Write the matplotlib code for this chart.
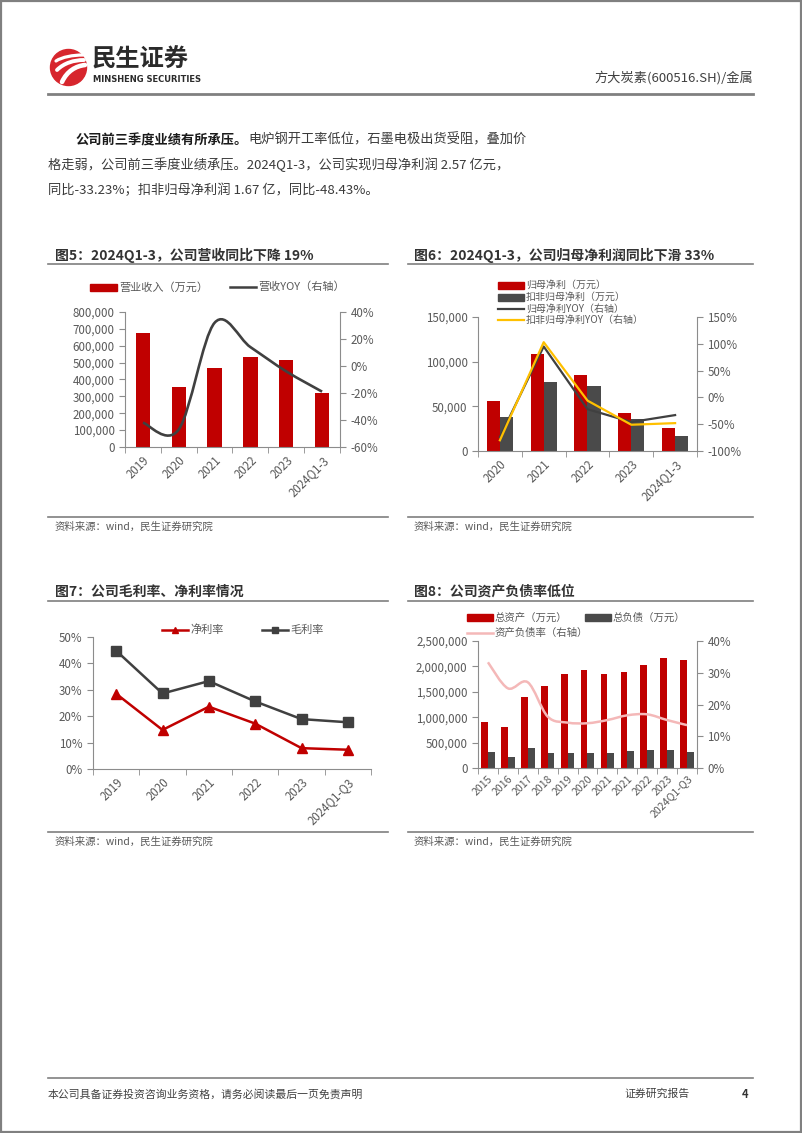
import matplotlib
matplotlib.use('Agg')
import matplotlib.pyplot as plt
import numpy as np
from matplotlib.path import Path
from matplotlib.patches import PathPatch, Circle, Rectangle
from matplotlib.lines import Line2D
from matplotlib.ticker import FixedLocator, FuncFormatter

plt.rcParams['font.family'] = ['Noto Sans CJK SC', 'DejaVu Sans']
plt.rcParams['axes.unicode_minus'] = False

# ---------------- data ----------------
c5_years = ['2019', '2020', '2021', '2022', '2023', '2024Q1-3']
c5_revenue = [675000, 357000, 470000, 535000, 515000, 322000]
c5_yoy = [-42, -47, 32, 14, -4, -19]

c6_years = ['2020', '2021', '2022', '2023', '2024Q1-3']
c6_np = [56000, 109000, 85000, 42000, 25700]
c6_np_deducted = [38500, 77500, 73000, 35500, 16700]
c6_np_yoy = [-74, 95, -22, -46, -33]
c6_npd_yoy = [-80, 103, -6, -51, -48]

c7_years = ['2019', '2020', '2021', '2022', '2023', '2024Q1-Q3']
c7_net_margin = [28.5, 14.8, 23.6, 17.2, 7.9, 7.3]
c7_gross_margin = [44.8, 28.6, 33.3, 25.6, 18.9, 17.7]

c8_years = ['2015', '2016', '2017', '2018', '2019', '2020', '2021', '2021', '2022', '2023', '2024Q1-Q3']
c8_assets = [905000, 810000, 1400000, 1610000, 1845000, 1930000, 1845000, 1895000, 2030000, 2170000, 2125000]
c8_liabilities = [320000, 222000, 400000, 288000, 288000, 300000, 300000, 335000, 360000, 348000, 315000]
c8_ratio = [33.3, 25.1, 27.0, 16.2, 14.3, 14.1, 15.1, 16.6, 16.9, 15.1, 13.5]

# ---------------- style ----------------
RED = '#C00000'
DGRAY = '#404040'
BGRAY = '#4A4A4A'
YEL = '#FFC000'
PINK = '#F4B8B8'
TXT = '#595959'
SPINE = '#8C8C8C'

W, H = 802, 1133
fig = plt.figure(figsize=(W / 100, H / 100), dpi=100)
fig.patch.set_facecolor('white')


def box(l, t, r, b):
    return [l / W, 1 - b / H, (r - l) / W, (b - t) / H]


bg = fig.add_axes([0, 0, 1, 1])
bg.set_xlim(0, W)
bg.set_ylim(H, 0)
bg.axis('off')


def T(x, y, s, size=7.5, color=TXT, weight='normal', ha='left', va='center', **kw):
    return bg.text(x, y, s, fontsize=size, color=color, fontweight=weight, ha=ha, va=va, **kw)


def hline(x0, x1, y, color='#7F7F7F', lw=1.2):
    bg.add_line(Line2D([x0, x1], [y, y], color=color, lw=lw))


def smooth_path(x, y):
    x = np.asarray(x, float)
    y = np.asarray(y, float)
    n = len(x)
    verts = [(x[0], y[0])]
    codes = [Path.MOVETO]
    for i in range(n - 1):
        p0 = (x[i - 1], y[i - 1]) if i > 0 else (x[i], y[i])
        p1 = (x[i], y[i])
        p2 = (x[i + 1], y[i + 1])
        p3 = (x[i + 2], y[i + 2]) if i + 2 < n else p2
        c1 = (p1[0] + (p2[0] - p0[0]) / 6, p1[1] + (p2[1] - p0[1]) / 6)
        c2 = (p2[0] - (p3[0] - p1[0]) / 6, p2[1] - (p3[1] - p1[1]) / 6)
        verts += [c1, c2, p2]
        codes += [Path.CURVE4] * 3
    return Path(verts, codes)


def style_axes(ax, labels, left=True, xsize=8.3):
    n = len(labels)
    ax.set_xlim(-0.5, n - 0.5)
    ax.set_facecolor('none')
    for s in ['top', 'right', 'left', 'bottom']:
        ax.spines[s].set_visible(False)
    ax.spines['bottom'].set_visible(True)
    ax.spines['bottom'].set_color(SPINE)
    if left:
        ax.spines['left'].set_visible(True)
        ax.spines['left'].set_color(SPINE)
    ax.xaxis.set_major_locator(FixedLocator(np.arange(n)))
    ax.xaxis.set_minor_locator(FixedLocator(np.arange(n + 1) - 0.5))
    ax.set_xticklabels(labels, rotation=45, ha='right', rotation_mode='anchor')
    ax.tick_params(axis='x', which='major', length=0, pad=5, labelsize=xsize, labelcolor=TXT)
    ax.tick_params(axis='x', which='minor', length=4, color=SPINE, direction='out')
    ax.tick_params(axis='y', length=4, color=SPINE, labelsize=8.3, labelcolor=TXT, direction='out')


def style_right(axr):
    axr.set_facecolor('none')
    for s in ['top', 'left', 'bottom']:
        axr.spines[s].set_visible(False)
    axr.spines['right'].set_color(SPINE)
    axr.tick_params(axis='y', length=4, color=SPINE, labelsize=8.3, labelcolor=TXT, direction='out')


comma = FuncFormatter(lambda v, p: f'{v:,.0f}')
pct = FuncFormatter(lambda v, p: f'{v:.0f}%')

# ---------------- page frame & header ----------------
bg.add_patch(Rectangle((0.8, 0.8), W - 1.6, H - 1.6, fill=False, ec='#808080', lw=1.6))

# logo
bg.add_patch(Circle((68.5, 67.5), 18, color='#D7262D'))
for k, (xs, ys) in enumerate([
        ([56, 62, 73, 83], [61, 57, 55, 55]),
        ([57, 64, 74, 84], [70, 63, 60, 60]),
        ([62, 67, 76, 85], [82, 71, 66, 65])]):
    pth = Path([(xs[0], ys[0]), (xs[1], ys[1]), (xs[2], ys[2]), (xs[3], ys[3])],
               [Path.MOVETO, Path.CURVE4, Path.CURVE4, Path.CURVE4])
    bg.add_patch(PathPatch(pth, fill=False, ec='white', lw=2.3 + 0.5 * k, capstyle='round'))
T(92, 60, '民生证券', size=17.5, color='#2B2B2B', weight='bold')
T(93, 79.5, 'MINSHENG SECURITIES', size=6.0, color='#2B2B2B', weight='bold',
  family=['DejaVu Sans'])
T(753, 78, '方大炭素(600516.SH)/金属', size=9.5, color='#404040', ha='right')
hline(48, 753, 93.5, color='#808080', lw=2.0)

# paragraph
r = fig.canvas.get_renderer()
PC = '#3A3A3A'
t1 = T(75, 140, '公司前三季度业绩有所承压。', size=9.5, color='#1A1A1A', weight='bold')
x_end = t1.get_window_extent(r).x1
T(x_end + 1, 140, '电炉钢开工率低位，石墨电极出货受阻，叠加价', size=9.5, color=PC)
T(48, 165, '格走弱，公司前三季度业绩承压。2024Q1-3，公司实现归母净利润 2.57 亿元，', size=9.5, color=PC)
T(48, 190, '同比-33.23%；扣非归母净利润 1.67 亿，同比-48.43%。', size=9.5, color=PC)

# titles and separators
TC = '#333333'
T(55, 255, '图5：2024Q1-3，公司营收同比下降 19%', size=10, color=TC, weight='bold')
hline(48, 388, 264)
T(414, 255, '图6：2024Q1-3，公司归母净利润同比下滑 33%', size=10, color=TC, weight='bold')
hline(408, 753, 264)
T(55, 592, '图7：公司毛利率、净利率情况', size=10, color=TC, weight='bold')
hline(48, 388, 601)
T(414, 592, '图8：公司资产负债率低位', size=10, color=TC, weight='bold')
hline(408, 753, 601)

# sources
hline(48, 388, 517)
T(55, 527, '资料来源：wind，民生证券研究院', size=7.5, color=TXT)
hline(408, 753, 517)
T(414, 527, '资料来源：wind，民生证券研究院', size=7.5, color=TXT)
hline(48, 388, 832)
T(55, 842, '资料来源：wind，民生证券研究院', size=7.5, color=TXT)
hline(408, 753, 832)
T(414, 842, '资料来源：wind，民生证券研究院', size=7.5, color=TXT)

# footer
hline(48, 753, 1078, color='#808080', lw=1.2)
T(48, 1094, '本公司具备证券投资咨询业务资格，请务必阅读最后一页免责声明', size=7.8, color='#404040')
T(624, 1094, '证券研究报告', size=7.8, color='#404040')
T(742, 1094, '4', size=8, color='#333333', weight='bold')


# legend helpers (page pixel coords)
def leg_patch(x0, x1, y, color, label, h=7, size=7.5):
    bg.add_patch(Rectangle((x0, y - h / 2), x1 - x0, h, color=color))
    T(x1 + 2, y, label, size=size, color=TXT)


def leg_line(x0, x1, y, color, label, lw=1.8, marker=None, ms=5, size=7.5):
    bg.add_line(Line2D([x0, x1], [y, y], color=color, lw=lw))
    if marker:
        bg.add_line(Line2D([(x0 + x1) / 2], [y], color=color, marker=marker, ms=ms, lw=0))
    T(x1 + 2, y, label, size=size, color=TXT)


# ---------------- chart 5 ----------------
x5 = np.arange(len(c5_years))
ax5 = fig.add_axes(box(125, 312, 340, 447))
ax5.bar(x5, c5_revenue, width=0.4, color=RED, zorder=2)
ax5.set_ylim(0, 800000)
ax5.yaxis.set_major_locator(FixedLocator(np.arange(0, 800001, 100000)))
ax5.yaxis.set_major_formatter(comma)
style_axes(ax5, c5_years)
ax5r = ax5.twinx()
ax5r.set_ylim(-60, 40)
ax5r.yaxis.set_major_locator(FixedLocator(np.arange(-60, 41, 20)))
ax5r.yaxis.set_major_formatter(pct)
style_right(ax5r)
ax5r.add_patch(PathPatch(smooth_path(x5, c5_yoy), fill=False, ec=DGRAY, lw=1.9, zorder=3))
leg_patch(90, 117, 287, RED, '营业收入（万元）', size=8)
leg_line(230, 256, 287, DGRAY, '营收YOY（右轴）', size=8)

# ---------------- chart 6 ----------------
x6 = np.arange(len(c6_years))
ax6 = fig.add_axes(box(478, 317, 697, 451))
ax6.bar(x6 - 0.15, c6_np, width=0.3, color=RED, zorder=2)
ax6.bar(x6 + 0.15, c6_np_deducted, width=0.3, color=BGRAY, zorder=2)
ax6.set_ylim(0, 150000)
ax6.yaxis.set_major_locator(FixedLocator(np.arange(0, 150001, 50000)))
ax6.yaxis.set_major_formatter(comma)
style_axes(ax6, c6_years)
ax6r = ax6.twinx()
ax6r.set_ylim(-100, 150)
ax6r.yaxis.set_major_locator(FixedLocator(np.arange(-100, 151, 50)))
ax6r.yaxis.set_major_formatter(pct)
style_right(ax6r)
ax6r.plot(x6, c6_np_yoy, color=DGRAY, lw=1.6, zorder=3)
ax6r.plot(x6, c6_npd_yoy, color=YEL, lw=1.6, zorder=4)
leg_patch(498, 524, 285, RED, '归母净利（万元）', size=7.2)
leg_patch(498, 524, 297, BGRAY, '扣非归母净利（万元）', size=7.2)
leg_line(498, 524, 308.5, DGRAY, '归母净利YOY（右轴）', lw=1.6, size=7.2)
leg_line(498, 524, 320, YEL, '扣非归母净利YOY（右轴）', lw=1.6, size=7.2)

# ---------------- chart 7 ----------------
x7 = np.arange(len(c7_years))
ax7 = fig.add_axes(box(93, 637, 371, 769))
ax7.plot(x7, c7_net_margin, color=RED, lw=1.8, marker='^', ms=7, zorder=3)
ax7.plot(x7, c7_gross_margin, color=DGRAY, lw=1.8, marker='s', ms=7, zorder=3)
ax7.set_ylim(0, 50)
ax7.yaxis.set_major_locator(FixedLocator(np.arange(0, 51, 10)))
ax7.yaxis.set_major_formatter(pct)
style_axes(ax7, c7_years)
leg_line(162, 188, 629.5, RED, '净利率', marker='^', ms=4.5, size=8)
leg_line(262, 288, 629.5, DGRAY, '毛利率', marker='s', ms=4.5, size=8)

# ---------------- chart 8 ----------------
x8 = np.arange(len(c8_years))
ax8 = fig.add_axes(box(478, 641, 697, 768))
ax8.bar(x8 - 0.17, c8_assets, width=0.34, color=RED, zorder=2)
ax8.bar(x8 + 0.17, c8_liabilities, width=0.34, color=BGRAY, zorder=2)
ax8.set_ylim(0, 2500000)
ax8.yaxis.set_major_locator(FixedLocator(np.arange(0, 2500001, 500000)))
ax8.yaxis.set_major_formatter(comma)
style_axes(ax8, c8_years, xsize=7.6)
ax8.tick_params(axis='x', which='major', pad=4)
ax8r = ax8.twinx()
ax8r.set_ylim(0, 40)
ax8r.yaxis.set_major_locator(FixedLocator(np.arange(0, 41, 10)))
ax8r.yaxis.set_major_formatter(pct)
style_right(ax8r)
ax8r.add_patch(PathPatch(smooth_path(x8, c8_ratio), fill=False, ec=PINK, lw=1.8, zorder=3))
leg_patch(467, 493, 617.5, RED, '总资产（万元）')
leg_patch(585, 611, 617.5, BGRAY, '总负债（万元）')
leg_line(467, 493, 633, PINK, '资产负债率（右轴）')

fig.savefig('out.png', dpi=100, facecolor='white')
